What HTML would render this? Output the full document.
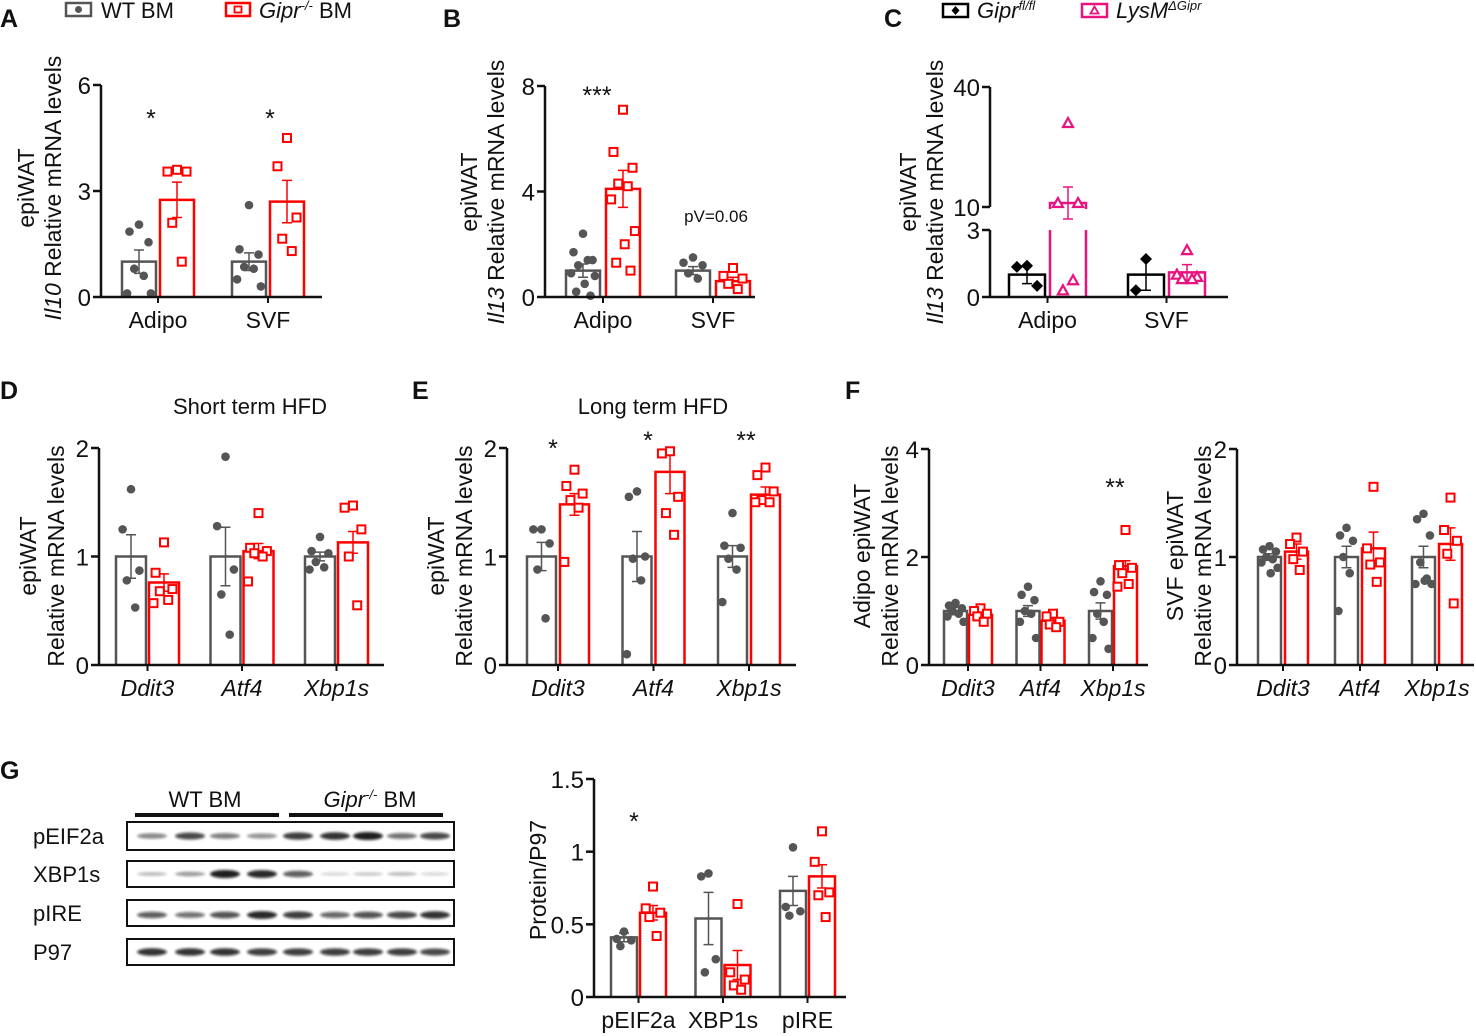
<!DOCTYPE html>
<html><head><meta charset="utf-8">
<style>
html,body{margin:0;padding:0;background:#fff;}
body{width:1476px;height:1036px;overflow:hidden;position:relative;font-family:"Liberation Sans",Arial,sans-serif;}
svg{position:absolute;left:0;top:0;}
text{font-family:"Liberation Sans",Arial,sans-serif;}
</style></head>
<body>
<svg id="fig" width="1476" height="1036" viewBox="0 0 1476 1036" xmlns="http://www.w3.org/2000/svg">
<defs><filter id="blur" x="-20%" y="-100%" width="140%" height="300%"><feGaussianBlur stdDeviation="1.3"/></filter></defs>
</svg>
<script>
// ---------- DATA ----------
const catsA = ["Adipo","SVF"];
const wtMeanA = [1.0,1.0], wtErrA=[0.33,0.25], koMeanA=[2.75,2.7], koErrA=[0.5,0.6];
const wtPtsA = [[2.05,1.85,1.55,0.8,0.6,0.1,0.1],[2.6,1.35,1.2,0.85,0.8,0.5,0.3]];
const koPtsA = [[3.6,3.55,3.55,2.1,1.0],[4.5,3.7,2.25,1.65,1.3]];
const ticksA = [0,3,6];

const catsB = ["Adipo","SVF"];
const wtMeanB=[1.0,1.0], wtErrB=[0.25,0.15], koMeanB=[4.1,0.6], koErrB=[0.7,0.15];
const wtPtsB=[[2.4,1.7,1.4,1.2,1.4,0.9,0.8,0.5,0.2,0.05],[1.5,1.3,1.2,0.9,0.7]];
const koPtsB=[[7.1,5.5,4.9,4.3,4.2,3.7,2.5,2.0,1.3,1.0],[1.1,0.8,0.7,0.5,0.3]];
const ticksB=[0,4,8];

const catsC=["Adipo","SVF"];
const wtMeanC=[1.0,1.0], wtErrC=[0.4,0.7], koMeanC=[11,1.1], koErrC=[4,0.35];
const wtPtsC=[[1.4,1.35,0.5],[1.7,0.3]];
const koPtsC=[[31,11,11,0.3,0.75],[2.1,1.0,0.9,0.8,0.8]];
const ticksC=[0,3,10,40];

const catsER=["Ddit3","Atf4","Xbp1s"];
const wtMeanD=[1,1,1], wtErrD=[0.2,0.27,0.04], koMeanD=[0.76,1.05,1.13], koErrD=[0.08,0.07,0.1];
const wtPtsD=[[1.62,1.25,0.87,0.78,0.53],[1.92,1.28,0.88,0.65,0.28],[1.18,1.05,1.03,0.95,0.9,0.88]];
const koPtsD=[[1.13,0.85,0.7,0.68,0.6,0.57],[1.4,1.08,1.05,1.03,1.0,0.77],[1.47,1.45,1.25,1.0,0.55]];
const ticksD=[0,1,2];

const wtMeanE=[1,1,1], wtErrE=[0.13,0.23,0.1], koMeanE=[1.48,1.78,1.57], koErrE=[0.1,0.2,0.07];
const wtPtsE=[[1.25,1.25,1.12,0.88,0.43],[1.6,1.55,1.0,0.98,0.78,0.1],[1.4,1.1,1.08,0.98,0.88,0.58]];
const koPtsE=[[1.8,1.65,1.58,1.52,1.45,0.95],[1.97,1.95,1.55,1.4,1.2],[1.82,1.75,1.6,1.52,1.5,1.5]];
const ticksE=[0,1,2];

const wtMeanF1=[1,1,1], wtErrF1=[0.07,0.1,0.15], koMeanF1=[0.93,0.82,1.83], koErrF1=[0.05,0.05,0.1];
const wtPtsF1=[[1.15,1.1,1.05,1.0,0.95,0.9,0.8],[1.45,1.3,1.2,1.0,0.95,0.8,0.5],[1.55,1.35,1.3,0.95,0.8,0.5,0.3]];
const koPtsF1=[[1.05,1.0,0.95,0.9,0.8],[0.95,0.9,0.8,0.75,0.7],[2.5,1.85,1.8,1.7,1.5,1.45]];
const ticksF1=[0,2,4];

const wtMeanF2=[1,1,1], wtErrF2=[0.03,0.1,0.1], koMeanF2=[1.05,1.08,1.12], koErrF2=[0.07,0.15,0.15];
const wtPtsF2=[[1.1,1.07,1.05,1.0,0.98,0.95,0.9,0.85],[1.27,1.2,1.15,1.0,0.85,0.5],[1.4,1.35,1.2,0.95,0.8,0.75,0.75,0.78]];
const koPtsF2=[[1.18,1.12,1.05,0.98,0.88],[1.65,1.08,0.95,0.93,0.77],[1.55,1.25,1.15,1.03,0.57]];
const ticksF2=[0,1,2];

const catsG=["pEIF2a","XBP1s","pIRE"];
const wtMeanG=[0.41,0.54,0.73], wtErrG=[0.03,0.18,0.1], koMeanG=[0.58,0.22,0.83], koErrG=[0.05,0.1,0.08];
const wtPtsG=[[0.45,0.4,0.39,0.35],[0.85,0.83,0.26,0.17],[1.03,0.62,0.59,0.56]];
const koPtsG=[[0.76,0.61,0.58,0.55,0.42],[0.64,0.17,0.12,0.08,0.05],[1.14,0.93,0.72,0.7,0.55]];
const ticksG=[0,0.5,1,1.5];
const tickLabelsG=["0","0.5","1","1.5"];

const blotRows=["pEIF2a","XBP1s","pIRE","P97"];
const blotIntensity=[[0.5,0.8,0.55,0.45,0.85,0.9,1.0,0.6,0.8],[0.2,0.35,1.0,0.95,0.7,0.08,0.15,0.2,0.08],[0.7,0.6,0.75,0.95,0.85,0.65,0.75,0.8,0.9],[0.9,0.9,0.9,0.85,0.85,0.85,0.85,0.85,0.8]];

// ---------- HELPERS ----------
const svg=document.getElementById('fig');
const NS='http://www.w3.org/2000/svg';
function mk(tag,attrs,parent){const e=document.createElementNS(NS,tag);for(const k in attrs)e.setAttribute(k,attrs[k]);(parent||svg).appendChild(e);return e;}
function txt(x,y,s,size,opts){opts=opts||{};const t=mk('text',{x:x,y:y,'font-size':size,fill:opts.fill||'#111','text-anchor':opts.anchor||'middle'},opts.parent);
 if(opts.weight)t.setAttribute('font-weight',opts.weight);if(opts.italic)t.setAttribute('font-style','italic');if(opts.rot)t.setAttribute('transform','rotate(-90 '+x+' '+y+')');
 t.innerHTML=s;return t;}
const GREY='#555', RED='#ff0000', PINK='#e8137f';
const JIT=[0,-0.28,0.28,-0.14,0.14,-0.35,0.35,0.05,-0.2,0.22];

function panel(p){
 const g=mk('g',{});
 
 
 const ys=p.yScale||(v=>p.y0-(v/p.ymax)*(p.y0-p.ytop));
 for(let i=0;i<p.cats.length;i++){
  const xs=[p.start+i*p.step, p.start+i*p.step+p.bw+p.gap];
  const means=[p.wtMean[i],p.koMean[i]], errs=[p.wtErr[i],p.koErr[i]], pts=[p.wtPts[i],p.koPts[i]];
  const cols=[p.c1,p.c2];
  for(let s=0;s<2;s++){
   const x=xs[s], yT=ys(means[s]), col=cols[s];
   let bar;
   if(p.brk && means[s]>p.brk[0]){
    const yb1=ys(p.brk[0]), yb2=ys(p.brk[1]);
    bar=mk('path',{d:`M${x} ${p.y0} V${yb1} M${x+p.bw} ${p.y0} V${yb1} M${x} ${yb2+2} V${yT} H${x+p.bw} V${yb2+2}`,fill:'none',stroke:col,'stroke-width':2.5},g);
   } else {
    bar=mk('path',{d:`M${x} ${p.y0} V${yT} H${x+p.bw} V${p.y0}`,fill:'none',stroke:col,'stroke-width':2.5},g);
   }
   
   
   const cx=x+p.bw/2;
   const e=mk('path',{d:`M${cx} ${ys(Math.max(0,means[s]-errs[s]))} V${ys(means[s]+errs[s])} M${cx-5} ${ys(means[s]+errs[s])} H${cx+5} M${cx-5} ${ys(means[s]-errs[s])} H${cx+5}`,stroke:col,'stroke-width':1.5,fill:'none'},g);
   
   
   pts[s].forEach((v,k)=>{
    const px=cx+JIT[k%JIT.length]*p.bw, py=ys(v);
    let m;
    if(s===0){
     if(p.mk1==='diamond') m=mk('path',{d:`M${px} ${py-6} L${px+6} ${py} L${px} ${py+6} L${px-6} ${py} Z`,fill:'#000'},g);
     else m=mk('circle',{cx:px,cy:py,r:4.3,fill:GREY},g);
    } else {
     if(p.mk2==='triangle') m=mk('path',{d:`M${px} ${py-5} L${px+5} ${py+4} L${px-5} ${py+4} Z`,fill:'#fff',stroke:PINK,'stroke-width':2.2},g);
     else m=mk('rect',{x:px-4,y:py-4,width:8,height:8,fill:'#fff',stroke:RED,'stroke-width':2},g);
    }
    
    
   });
  }
  const lx=p.start+i*p.step+p.bw+p.gap/2;
  mk('line',{x1:lx,y1:p.y0,x2:lx,y2:p.y0+6,stroke:'#111','stroke-width':2},g);
  const cl=txt(lx,p.y0+31,p.cats[i],p.catSize||23,{italic:p.catItalic,parent:g});
  
  
 }
 if(p.brk){
  mk('path',{d:`M${p.ax} ${p.y0} V${ys(p.brk[0])} M${p.ax} ${ys(p.brk[1])} V${p.ytop}`,stroke:'#111','stroke-width':2.5,fill:'none'},g);
 } else mk('line',{x1:p.ax,y1:p.y0+1,x2:p.ax,y2:p.ytop,stroke:'#111','stroke-width':2.5},g);
 mk('line',{x1:p.ax,y1:p.y0,x2:p.xEnd,y2:p.y0,stroke:'#111','stroke-width':2.5},g);
 p.ticks.forEach((t,k)=>{
  const y=ys(t);
  mk('line',{x1:p.ax-8,y1:y,x2:p.ax,y2:y,stroke:'#111','stroke-width':2.5},g);
  const tl=txt(p.ax-10,y+9,p.tickLabels?p.tickLabels[k]:String(t),24,{anchor:'end',parent:g});
  
  
 });
 p.ytitle.forEach((s,k)=>{const t=txt(p.tx[k],p.tyc,s,23,{rot:true,parent:g});});
 return g;
}

const common={c1:GREY,c2:RED};
panel(Object.assign({},common,{name:'panel-a-chart',cats:catsA,wtMean:wtMeanA,wtErr:wtErrA,koMean:koMeanA,koErr:koErrA,wtPts:wtPtsA,koPts:koPtsA,ticks:ticksA,
 ax:101,y0:297,ytop:85,ymax:6,xEnd:322,start:122,bw:34,gap:4,step:110,ytitle:['epiWAT','<tspan font-style="italic">Il10</tspan> Relative mRNA levels'],tx:[34,61],tyc:188}));
panel(Object.assign({},common,{name:'panel-b-chart',cats:catsB,wtMean:wtMeanB,wtErr:wtErrB,koMean:koMeanB,koErr:koErrB,wtPts:wtPtsB,koPts:koPtsB,ticks:ticksB,
 ax:545,y0:297,ytop:86,ymax:8,xEnd:755,start:566,bw:34,gap:6,step:110,ytitle:['epiWAT','<tspan font-style="italic">Il13</tspan> Relative mRNA levels'],tx:[477,504],tyc:192}));
panel({name:'panel-c-chart',c1:'#000',c2:PINK,mk1:'diamond',mk2:'triangle',cats:catsC,wtMean:wtMeanC,wtErr:wtErrC,koMean:koMeanC,koErr:koErrC,wtPts:wtPtsC,koPts:koPtsC,ticks:ticksC,
 yScale:v=>v<=3?297-v/3*67:207-(v-10)/30*120,brk:[3,10],
 ax:990,y0:297,ytop:87,ymax:40,xEnd:1228,start:1009,bw:36,gap:5,step:119,ytitle:['epiWAT','<tspan font-style="italic">Il13</tspan> Relative mRNA levels'],tx:[916,943],tyc:192});
panel(Object.assign({},common,{name:'panel-d-chart',cats:catsER,catItalic:true,wtMean:wtMeanD,wtErr:wtErrD,koMean:koMeanD,koErr:koErrD,wtPts:wtPtsD,koPts:koPtsD,ticks:ticksD,
 ax:99,y0:665,ytop:448,ymax:2,xEnd:384,start:116,bw:30,gap:3,step:94.5,ytitle:['epiWAT','Relative mRNA levels'],tx:[36,64],tyc:556}));
panel(Object.assign({},common,{name:'panel-e-chart',cats:catsER,catItalic:true,wtMean:wtMeanE,wtErr:wtErrE,koMean:koMeanE,koErr:koErrE,wtPts:wtPtsE,koPts:koPtsE,ticks:ticksE,
 ax:507,y0:665,ytop:448,ymax:2,xEnd:796,start:527,bw:29,gap:4,step:95.5,ytitle:['epiWAT','Relative mRNA levels'],tx:[444,472],tyc:556}));
panel(Object.assign({},common,{name:'panel-f-adipo-chart',cats:catsER,catItalic:true,wtMean:wtMeanF1,wtErr:wtErrF1,koMean:koMeanF1,koErr:koErrF1,wtPts:wtPtsF1,koPts:koPtsF1,ticks:ticksF1,
 ax:929,y0:665,ytop:449,ymax:4,xEnd:1148,start:944,bw:23,gap:2,step:72.5,ytitle:['Adipo epiWAT','Relative mRNA levels'],tx:[870,898],tyc:556}));
panel(Object.assign({},common,{name:'panel-f-svf-chart',cats:catsER,catItalic:true,wtMean:wtMeanF2,wtErr:wtErrF2,koMean:koMeanF2,koErr:koErrF2,wtPts:wtPtsF2,koPts:koPtsF2,ticks:ticksF2,
 ax:1237,y0:665,ytop:449,ymax:2,xEnd:1474,start:1258,bw:23,gap:4,step:77,ytitle:['SVF epiWAT','Relative mRNA levels'],tx:[1183,1211],tyc:556}));
panel(Object.assign({},common,{name:'panel-g-chart',cats:catsG,wtMean:wtMeanG,wtErr:wtErrG,koMean:koMeanG,koErr:koErrG,wtPts:wtPtsG,koPts:koPtsG,ticks:ticksG,tickLabels:tickLabelsG,
 ax:594,y0:997,ytop:779,ymax:1.5,xEnd:846,start:611,bw:26,gap:3,step:84.5,ytitle:['Protein/P97'],tx:[546],tyc:880}));

// ---------- Labels ----------
[['A',0,27],['B',443,27],['C',884,27],['D',0,399],['E',412,399],['F',845,399],['G',0,779]].forEach(a=>{
 const t=txt(a[1],a[2],a[0],25,{anchor:'start',weight:'bold'});
 
 
});
[['*',151,127],['*',270,127],['***',597,104],['*',553,457],['*',648,449],['**',746,449],['**',1115,496],['*',634,830]].forEach(a=>{
 const t=txt(a[1],a[2],a[0],25);
 
 
});
let pv=txt(716,222,'pV=0.06',17);
let t1=txt(250,414,'Short term HFD',22);
let t2=txt(653,414,'Long term HFD',22);

let lg=mk('g',{});
mk('rect',{x:66,y:3,width:25,height:13,fill:'#fff',stroke:GREY,'stroke-width':2.5},lg);
mk('circle',{cx:78.5,cy:9.5,r:3.5,fill:GREY},lg);
txt(101,18,'WT BM',22,{anchor:'start',parent:lg});
mk('rect',{x:226,y:3,width:24,height:13,fill:'#fff',stroke:RED,'stroke-width':2.5},lg);
mk('rect',{x:234.5,y:6.5,width:7,height:6,fill:'#fff',stroke:RED,'stroke-width':1.8},lg);
txt(259,18,'<tspan font-style="italic">Gipr</tspan><tspan font-size="13" dy="-8" font-style="italic">-/-</tspan><tspan dy="8"> BM</tspan>',22,{anchor:'start',parent:lg});
let lc=mk('g',{});
mk('rect',{x:943,y:4,width:25,height:13,fill:'#fff',stroke:'#000','stroke-width':2.5},lc);
mk('path',{d:'M955.5 6 L959.5 10.5 L955.5 15 L951.5 10.5 Z',fill:'#000'},lc);
txt(977,18,'<tspan font-style="italic">Gipr</tspan><tspan font-size="13" dy="-8" font-style="italic">fl/fl</tspan>',22,{anchor:'start',parent:lc});
mk('rect',{x:1082,y:4,width:25,height:13,fill:'#fff',stroke:PINK,'stroke-width':2.5},lc);
mk('path',{d:'M1094.5 6.5 L1098.5 13.5 L1090.5 13.5 Z',fill:'#fff',stroke:PINK,'stroke-width':1.8},lc);
txt(1116,18,'<tspan font-style="italic">LysM</tspan><tspan font-size="13" dy="-8" font-style="italic">ΔGipr</tspan>',22,{anchor:'start',parent:lc});

// ---------- Western blot ----------
const wb=mk('g',{});


txt(205,807,'WT BM',22,{parent:wb});
txt(370,807,'<tspan font-style="italic">Gipr</tspan><tspan font-size="13" dy="-8" font-style="italic">-/-</tspan><tspan dy="8"> BM</tspan>',22,{parent:wb});
mk('line',{x1:135,y1:815,x2:279,y2:815,stroke:'#111','stroke-width':4},wb);
mk('line',{x1:289,y1:815,x2:443,y2:815,stroke:'#111','stroke-width':4},wb);
const boxY=[[822,850],[861,887],[900,926],[939,965]];
const lanes=[152,190,225,262,298,335,368,402,435];
blotRows.forEach((r,i)=>{
 const yy=boxY[i];
 const lab=txt(33,(yy[0]+yy[1])/2+8,r,22,{anchor:'start',parent:wb});
 
 
 mk('rect',{x:127,y:yy[0],width:327,height:yy[1]-yy[0],fill:'#fff',stroke:'#111','stroke-width':2},wb);
 const cy=(yy[0]+yy[1])/2+(i===2?2:0);
 blotIntensity[i].forEach((v,k)=>{
  const b=mk('ellipse',{cx:lanes[k],cy:cy,rx:15,ry:1.5+v*2.5,fill:'#111','fill-opacity':Math.min(1,0.08+v*0.85),filter:'url(#blur)'},wb);
  
  
 });
});
</script>
</body></html>
